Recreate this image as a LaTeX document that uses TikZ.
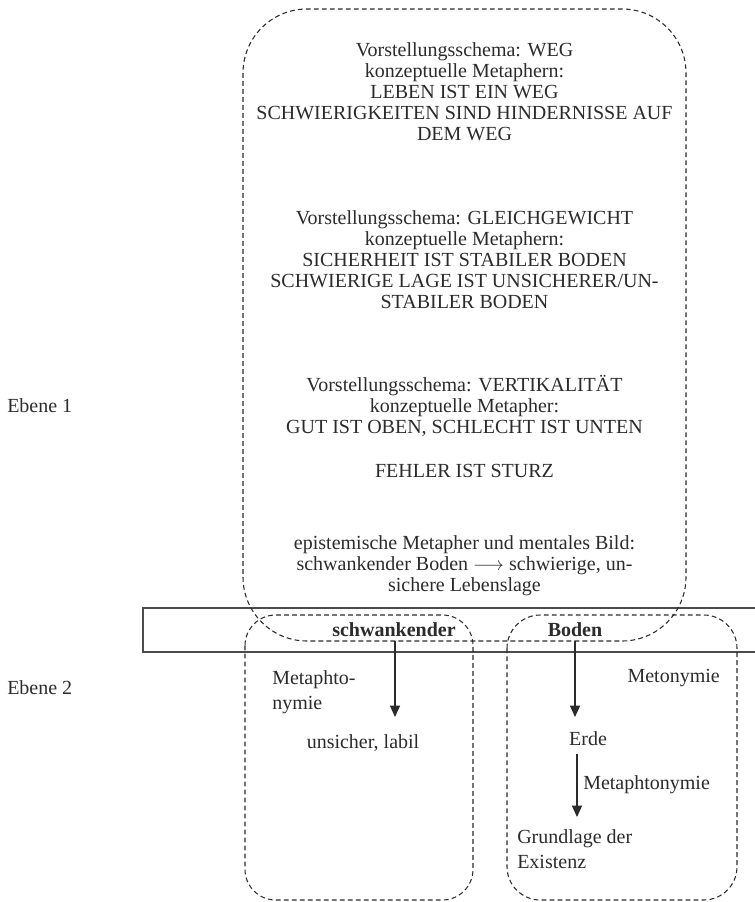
\documentclass[tikz,border=0pt]{standalone}
\usepackage{fontspec}
\setmainfont{Liberation Serif}
\usetikzlibrary{arrows.meta}
\definecolor{ink}{HTML}{2B2B2B}
\begin{document}
\begin{tikzpicture}[x=0.75pt,y=-0.75pt,
  every node/.style={text=ink, font=\fontsize{15}{15.75}\selectfont, inner sep=0pt},
  dashbox/.style={draw=ink, line width=0.8pt, dash pattern=on 3.6pt off 2.4pt},
  frame/.style={draw=ink!85, line width=1pt},
  arr/.style={draw=ink, line width=0.8pt, -{Triangle[length=8.5pt,width=7.5pt]}},
  block/.style={align=center},
  lbl/.style={align=left, font=\fontsize{15}{18.75}\selectfont}]
\useasboundingbox (0,0) rectangle (754,902);

% level strip and the three dashed areas
\draw[frame] (143,608) rectangle (770,652);
\draw[dashbox, rounded corners=48pt] (243,9) rectangle (686,641);
\draw[dashbox, rounded corners=23pt] (245,615) rectangle (473,900);
\draw[dashbox, rounded corners=25pt] (507,615) rectangle (737,900);

% level 1 text blocks
\node[block] (weg) at (464.5,92) {Vorstellungsschema: WEG\\ konzeptuelle Metaphern:\\ LEBEN IST EIN WEG\\ SCHWIERIGKEITEN SIND HINDERNISSE AUF\\ DEM WEG};
\node[block] (gleich) at (464.5,259.5) {Vorstellungsschema: GLEICHGEWICHT\\ konzeptuelle Metaphern:\\ SICHERHEIT IST STABILER BODEN\\ SCHWIERIGE LAGE IST UNSICHERER/UN-\\ STABILER BODEN};
\node[block] (vert) at (464.5,406) {Vorstellungsschema: VERTIKALITÄT\\ konzeptuelle Metapher:\\ GUT IST OBEN, SCHLECHT IST UNTEN};
\node[block] (sturz) at (464.5,471) {FEHLER IST STURZ};
\node[block] (epist) at (464.5,566) {epistemische Metapher und mentales Bild:\\ schwankender Boden \smash{$\longrightarrow$} schwierige, un-\\ sichere Lebenslage};

% level labels
\node[anchor=west] (ebene1) at (7,406) {Ebene 1};
\node[anchor=west] (ebene2) at (7,688) {Ebene 2};

% the two words of the expression
\node (schw) at (394,630) {\textbf{schwankender}};
\node (boden) at (575,630) {\textbf{Boden}};

% level 2 content
\node[lbl, anchor=north west] (metaphto) at (272,670) {Metaphto-\\nymie};
\node (unsicher) at (363,743) {unsicher, labil};
\node[anchor=east] (metonymie) at (720,678) {Metonymie};
\node (erde) at (588,739) {Erde};
\node[anchor=west] (metaphtonymie) at (583,785) {Metaphtonymie};
\node[lbl, anchor=north west] (grundlage) at (517,829) {Grundlage der\\Existenz};

% arrows
\coordinate (t1) at (395,717);
\coordinate (t2) at (575,717);
\coordinate (t3) at (577,817);
\draw[arr, shorten <=3pt] (schw.south -| t1) -- (t1);
\draw[arr, shorten <=3pt] (boden.south -| t2) -- (t2);
\draw[arr, shorten <=6pt] (erde.south -| t3) -- (t3);
\end{tikzpicture}
\end{document}
